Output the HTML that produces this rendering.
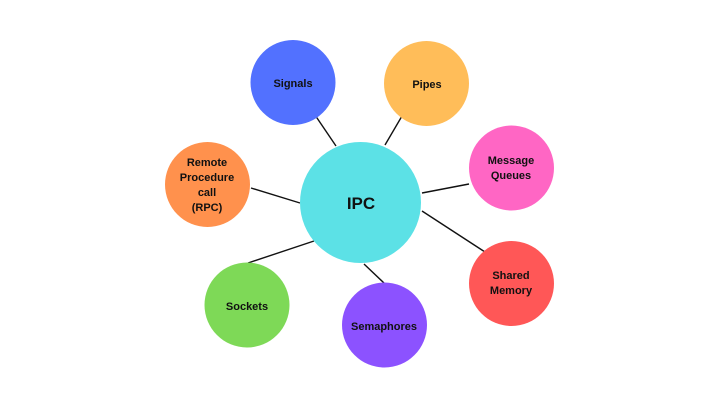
<!DOCTYPE html>
<html><head><style>
html,body{margin:0;padding:0;background:#fff;width:720px;height:405px;overflow:hidden}
svg text{font-family:"Liberation Sans",sans-serif;font-weight:bold;fill:#111;text-anchor:middle}
</style></head><body>
<svg width="720" height="405" viewBox="0 0 720 405">
<g stroke="#111" stroke-width="1.4">
<line x1="315" y1="115" x2="336" y2="146"/>
<line x1="402" y1="116" x2="385" y2="145"/>
<line x1="469" y1="184" x2="422" y2="193"/>
<line x1="485" y1="252" x2="422" y2="211"/>
<line x1="384" y1="283" x2="364" y2="264"/>
<line x1="248" y1="263" x2="314" y2="241"/>
<line x1="251" y1="188" x2="300" y2="203"/>
</g>
<circle cx="360.5" cy="202.5" r="60.5" fill="#5CE1E6"/>
<circle cx="293" cy="82.5" r="42.5" fill="#5271FF"/>
<circle cx="426.5" cy="83.5" r="42.5" fill="#FFBD59"/>
<circle cx="511.5" cy="168" r="42.5" fill="#FF66C4"/>
<circle cx="511.5" cy="283.5" r="42.5" fill="#FF5757"/>
<circle cx="384.5" cy="325" r="42.5" fill="#8C52FF"/>
<circle cx="247" cy="305" r="42.5" fill="#7ED957"/>
<circle cx="207.5" cy="184.5" r="42.5" fill="#FF914D"/>
<text x="361" y="209" font-size="17">IPC</text>
<g font-size="11">
<text x="293" y="87">Signals</text>
<text x="427" y="88">Pipes</text>
<text x="511" y="164">Message</text>
<text x="511" y="179">Queues</text>
<text x="511" y="279">Shared</text>
<text x="511" y="294">Memory</text>
<text x="384" y="330">Semaphores</text>
<text x="247" y="310">Sockets</text>
<text x="207" y="166">Remote</text>
<text x="207" y="181">Procedure</text>
<text x="207" y="196">call</text>
<text x="207" y="211">(RPC)</text>
</g>
</svg>
</body></html>
